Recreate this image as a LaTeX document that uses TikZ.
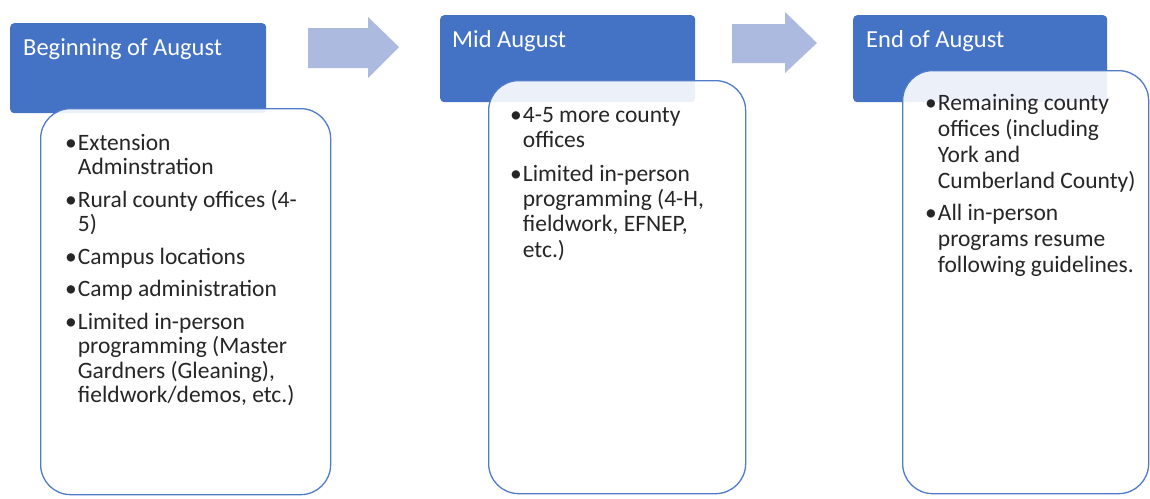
\documentclass[tikz,border=0pt]{standalone}
\usepackage{fontspec}
\setmainfont{Carlito}
\definecolor{hdrblue}{HTML}{4472C4}
\definecolor{arrowblue}{HTML}{ADBADF}
\definecolor{boxline}{HTML}{4F7BC8}
\newcommand{\bodyfont}[1]{\fontsize{23.5}{#1}\selectfont}
\begin{document}
\begin{tikzpicture}[x=1pt,y=-1pt,
  hdr/.style={fill=hdrblue, draw=none, rounded corners=4pt, anchor=north west, inner sep=0pt},
  hdrtext/.style={anchor=base west, inner sep=0pt, text=white, font=\fontsize{24.5}{28}\selectfont},
  tbox/.style={draw=boxline, line width=1.3pt, fill=white, fill opacity=0.9, rounded corners=30pt, anchor=north west, inner sep=0pt},
  btext/.style={anchor=base west, inner sep=0pt, text=black!85},
  blockarrow/.style={fill=arrowblue, draw=none}
]
\useasboundingbox (0,0) rectangle (1150,498);

% headers
\node[hdr, minimum width=256pt, minimum height=90pt] (h1) at (10,23) {};
\node[hdr, minimum width=255pt, minimum height=87pt] (h2) at (440,15) {};
\node[hdr, minimum width=254pt, minimum height=87pt] (h3) at (853,15) {};

% block arrows
\fill[blockarrow] (308,28) -- (368,28) -- (368,17) -- (399,47) -- (368,78) -- (368,68) -- (308,68) -- cycle;
\fill[blockarrow] (732,24) -- (785,24) -- (785,12) -- (817,43) -- (785,73) -- (785,63) -- (732,63) -- cycle;

% text boxes
\node[tbox, minimum width=290pt, minimum height=386pt] (b1) at (40,108) {};
\node[tbox, minimum width=257pt, minimum height=413pt] (b2) at (488,80) {};
\node[tbox, minimum width=246pt, minimum height=423pt] (b3) at (902,70) {};

% header texts
\node[hdrtext] (h1t) at (23,55) {Beginning of August};
\node[hdrtext] (h2t) at (452,47) {Mid August};
\node[hdrtext] (h3t) at (866,47) {End of August};

% body texts
\node[btext, font=\bodyfont{24.5}] (b1t) at (65,150) {\begin{tabular}[t]{@{}l@{\hspace{1pt}}l@{}}
\textbullet&Extension\\
&Adminstration\\[8pt]
\textbullet&Rural county offices (4-\\
&5)\\[8pt]
\textbullet&Campus locations\\[8pt]
\textbullet&Camp administration\\[8pt]
\textbullet&Limited in-person\\
&programming (Master\\
&Gardners (Gleaning),\\
&fieldwork/demos, etc.)
\end{tabular}};

\node[btext, font=\bodyfont{25.2}] (b2t) at (510,122) {\begin{tabular}[t]{@{}l@{\hspace{1pt}}l@{}}
\textbullet&4-5 more county\\
&offices\\[9pt]
\textbullet&Limited in-person\\
&programming (4-H,\\
&fieldwork, EFNEP,\\
&etc.)
\end{tabular}};

\node[btext, font=\bodyfont{26}] (b3t) at (925,110) {\begin{tabular}[t]{@{}l@{\hspace{1pt}}l@{}}
\textbullet&Remaining county\\
&offices (including\\
&York and\\
&Cumberland County)\\[6pt]
\textbullet&All in-person\\
&programs resume\\
&following guidelines.
\end{tabular}};
\end{tikzpicture}
\end{document}
